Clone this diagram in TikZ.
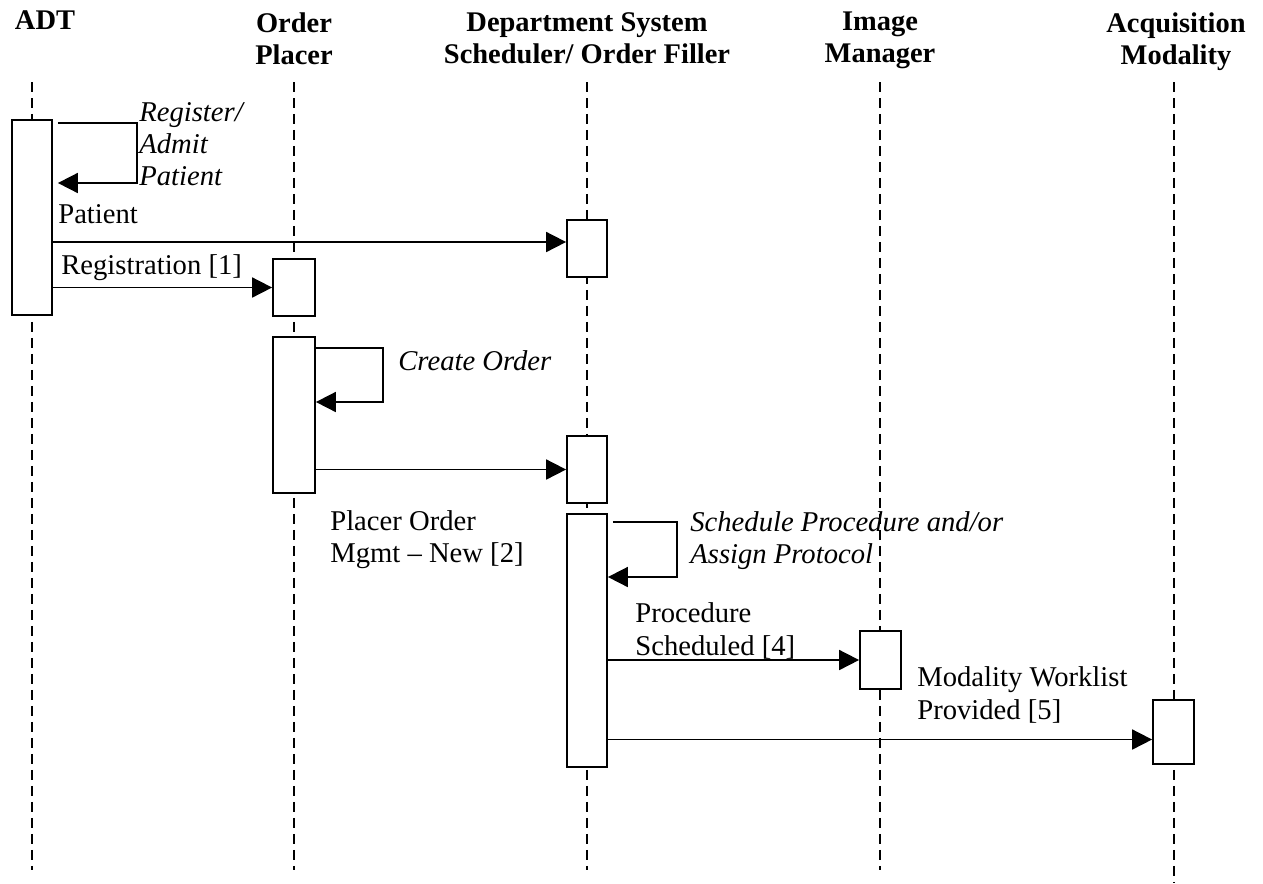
\documentclass[tikz,border=0pt]{standalone}
\usepackage{fontspec}
\setmainfont{Liberation Serif}
\usetikzlibrary{arrows.meta,fit}

\begin{document}
\begin{tikzpicture}[x=0.02cm, y=-0.02cm, font=\fontsize{16.3}{18.3}\selectfont,
    lifeline/.style={line width=0.8pt, dash pattern=on 0.2cm off 0.12cm},
    actbox/.style={draw, line width=1pt, fill=white, inner sep=0pt},
    msg/.style={line width=1pt, -{Triangle[length=0.4cm,width=0.4cm]}},
    head/.style={font=\fontsize{16.2}{18.2}\selectfont\bfseries, align=center, anchor=north, inner sep=0pt},
    lbl/.style={anchor=west, align=left, inner sep=0pt},
    note/.style={lbl, font=\fontsize{16.3}{18.3}\selectfont\itshape}]
    \useasboundingbox (0,0) rectangle (1263,883);
    % actors
    \node[head] (adt) at (45,10)   {ADT};
    \node[head] (op)  at (294,12)  {Order\\Placer};
    \node[head] (dss) at (587,12)  {Department System\\Scheduler/ Order Filler};
    \node[head] (im)  at (880,12)  {Image\\Manager};
    \node[head] (am)  at (1176,12) {Acquisition\\Modality};
    % lifelines
    \foreach \n/\x/\e in {adt/32/870, op/294/870, dss/587/870, im/880/870, am/1174/883} {
      \coordinate (\n top) at (\x,82);
      \coordinate (\n bot) at (\x,\e);
      \draw[lifeline] (\n top) -- (\n bot);
    }
    % activation boxes
    \node[actbox, fit={(12,120) (52,315)}]     (adtA) {};
    \node[actbox, fit={(273,259) (315,316)}]   (opA)  {};
    \node[actbox, fit={(273,337) (315,493)}]   (opB)  {};
    \node[actbox, fit={(567,220) (607,277)}]   (dssA) {};
    \node[actbox, fit={(567,436) (607,503)}]   (dssB) {};
    \node[actbox, fit={(567,514) (607,767)}]   (dssC) {};
    \node[actbox, fit={(860,631) (901,689)}]   (imA)  {};
    \node[actbox, fit={(1153,700) (1194,764)}] (amA)  {};
    % self messages
    \coordinate (regTop) at (137,123);
    \coordinate (regBot) at (137,183);
    \draw[msg] ([xshift=0.1cm]adtA.east |- regTop) -- (regTop) -- (regBot)
      -- ([xshift=0.1cm]adtA.east |- regBot);
    \coordinate (coTop) at (383,348);
    \coordinate (coBot) at (383,402);
    \draw[msg] (opB.east |- coTop) -- (coTop) -- (coBot) -- (opB.east |- coBot);
    \coordinate (spTop) at (677,522);
    \coordinate (spBot) at (677,577);
    \draw[msg] ([xshift=0.1cm]dssC.east |- spTop) -- (spTop) -- (spBot)
      -- (dssC.east |- spBot);
    % messages
    \coordinate (patIn) at ([yshift=0.13cm]dssA.west);
    \draw[msg] (adtA.east |- patIn) -- (patIn);
    \draw[msg] (adtA.east |- opA.west) -- (opA.west);
    \draw[msg] (opB.east |- dssB.west) -- (dssB.west);
    \draw[msg] (dssC.east |- imA.west) -- (imA.west);
    \coordinate (mwlIn) at ([yshift=-0.15cm]amA.west);
    \draw[msg] (dssC.east |- mwlIn) -- (mwlIn);
    % labels
    \node[note] (regL) at (139,144) {Register/\\Admit\\Patient};
    \node[lbl]  (patL) at (58,214)  {Patient};
    \node[lbl]  (rgL)  at (61,268)  {Registration [1]};
    \node[note] (coL)  at (398,361) {Create Order};
    \node[lbl]  (poL)  at (330,540) {Placer Order\\Mgmt -- New [2]};
    \node[note] (spL)  at (690,541) {Schedule Procedure and/or\\Assign Protocol};
    \node[lbl]  (psL)  at (635,631) {Procedure\\Scheduled [4]};
    \node[lbl]  (mwL)  at (917,695) {Modality Worklist\\Provided [5]};
  \end{tikzpicture}
\end{document}
